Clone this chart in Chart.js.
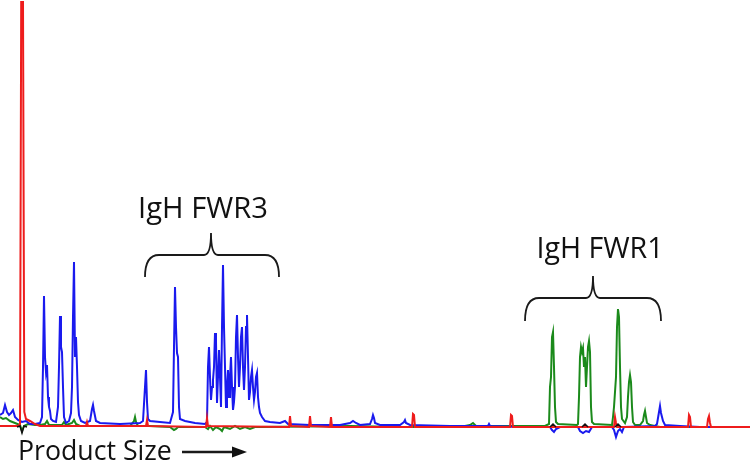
<!DOCTYPE html>
<html>
<head>
<meta charset="utf-8">
<script src="https://cdn.jsdelivr.net/npm/chart.js@4"></script>
<style>
    html, body { margin: 0; padding: 0; background: #ffffff; }
    #wrap { width: 750px; height: 466px; }
</style>
</head>
<body>
<div id="wrap"><canvas id="traceChart" width="750" height="466"></canvas></div>
<script>
// Electropherogram traces: [position along run, signal]
const redTrace = [
    [0, 1], [18, 1], [20, 3], [21.2, 425], [23, 425], [24.3, 15], [26, 8], [30, 6], [35, 3], [40, 1],
    [86, 1], [87, 5], [88, 1], [146, 1], [147, 7], [148, 1], [206, 0], [207, 9], [208, 1],
    [289, 0], [290, 11], [291, 1], [309, 0], [310, 11], [311, 1], [330, 0], [331, 10], [332, 0],
    [412, 0], [413, 13], [414, 12], [415, 0], [510, 0], [511, 12], [512, 11], [513, 0],
    [614, 0], [615, 10], [616, 4], [617, 0], [688, 0], [689, 12], [690, 10], [691, 0],
    [707, 0], [708, 8], [709, 11], [710, 4], [711, 0], [750, 0]
];

const blueTrace = [
    [0, 12], [3, 14], [5, 22], [7, 15], [9, 12], [11, 14], [13, 17], [15, 10], [18, 7], [22, 5], [26, 6],
    [30, 3], [35, 3], [40, 4], [42, 10], [43, 60], [44, 131], [45, 70], [46, 55], [47, 62], [48, 30],
    [49, 20], [50, 16], [51, 8], [53, 6], [56, 5], [58, 20], [59, 60], [60, 111], [61, 80], [62, 75],
    [63, 40], [64, 10], [66, 4], [69, 6], [71, 14], [72, 40], [73, 110], [74, 165], [75, 70], [76, 90],
    [77, 60], [78, 25], [79, 12], [81, 6], [85, 4], [90, 6], [92, 18], [93, 22], [94, 16], [96, 6],
    [100, 4], [120, 3], [140, 4], [143, 6], [145, 40], [146, 57], [147, 25], [148, 8], [150, 6],
    [160, 5], [170, 4], [173, 15], [174, 80], [175, 140], [176, 100], [177, 74], [178, 70], [179, 20],
    [180, 8], [185, 6], [195, 4], [205, 3], [207, 5], [208, 60], [209, 80], [210, 50], [211, 27],
    [212, 40], [213, 47], [214, 60], [215, 94], [216, 85], [217, 24], [218, 50], [219, 77], [220, 50],
    [221, 20], [222, 100], [223, 162], [224, 100], [225, 60], [226, 20], [227, 40], [228, 57], [229, 30],
    [230, 50], [231, 70], [232, 40], [233, 17], [234, 25], [235, 40], [236, 90], [237, 112], [238, 70],
    [239, 40], [240, 60], [241, 90], [242, 100], [243, 60], [244, 37], [245, 60], [246, 100], [247, 112],
    [248, 70], [249, 27], [250, 35], [251, 50], [252, 57], [253, 40], [254, 27], [255, 35], [256, 50],
    [257, 54], [258, 30], [259, 20], [260, 14], [262, 10], [265, 6], [270, 5], [280, 4], [285, 6],
    [288, 3], [310, 2], [340, 2], [350, 4], [353, 6], [356, 4], [360, 2], [370, 3], [372, 8], [373, 12],
    [374, 9], [375, 4], [380, 2], [400, 2], [404, 5], [405, 7], [406, 4], [410, 2], [450, 1], [488, 1],
    [489, 3], [490, 1], [520, 0], [550, 0], [552, -3], [554, -5], [556, -2], [560, 0], [578, 0],
    [580, -4], [583, -6], [586, -4], [589, -5], [592, 0], [612, 0], [614, -3], [616, -10], [618, -4],
    [620, -2], [622, -5], [624, 0], [655, 1], [657, 3], [659, 15], [660, 21], [661, 14], [662, 10],
    [663, 6], [665, 2], [680, 1], [700, 0], [750, 0]
];

const greenTrace = [
    [0, 10], [3, 8], [6, 9], [10, 6], [15, 4], [20, 2], [22, -4], [24, 1], [28, 3], [35, 2], [40, 2],
    [45, 3], [47, 6], [49, 2], [55, 2], [62, 2], [64, 5], [66, 2], [72, 4], [74, 7], [76, 3], [80, 1],
    [130, 1], [134, 6], [135, 10], [136, 5], [138, 1], [150, 1], [170, 0], [174, -3], [176, -2],
    [178, 0], [205, 0], [208, -2], [210, 1], [213, -3], [216, 0], [220, -2], [222, -4], [224, 0],
    [230, -2], [235, 1], [240, -2], [245, 0], [250, -2], [255, 0], [260, 0], [350, 1], [400, 0],
    [460, 0], [470, 2], [473, 4], [476, 1], [545, 1], [549, 3], [550, 40], [551, 50], [552, 90],
    [553, 95], [554, 60], [555, 20], [556, 5], [558, 3], [577, 2], [578, 3], [579, 30], [580, 70],
    [581, 80], [582, 75], [583, 79], [584, 60], [585, 70], [586, 40], [587, 60], [588, 80], [589, 86],
    [590, 75], [591, 20], [592, 5], [594, 3], [612, 2], [613, 10], [614, 20], [615, 35], [616, 50],
    [617, 100], [618, 118], [619, 110], [620, 60], [621, 20], [622, 8], [625, 4], [627, 10], [628, 30],
    [629, 45], [630, 52], [631, 45], [632, 20], [633, 5], [635, 2], [640, 2], [643, 6], [644, 12],
    [645, 16], [646, 10], [647, 4], [650, 2], [660, 0], [750, 0]
];

const blackTrace = [
    [17, 0], [20, 1], [22, -6], [24, 1], [27, 0], [28, null],
    [550, 0], [553, 3], [556, 0], [557, null],
    [582, 0], [585, 3], [588, 0], [589, null],
    [615, 0], [618, 3], [621, 0]
];

const regionLabels = ['IgH FWR3', 'IgH FWR1'];
const axisLabel = 'Product Size';

const toPoints = (pairs) => pairs.map(([x, y]) => ({ x: x, y: y }));

const FONT_FAMILY = '"Open Sans", Lato, sans-serif';

// pick a font size so the text spans the given width
function fitFont(ctx, text, width) {
    ctx.font = '100px ' + FONT_FAMILY;
    const size = 100 * width / ctx.measureText(text).width;
    return size.toFixed(1) + 'px ' + FONT_FAMILY;
}

// Braces, region names and the axis caption drawn on top of the traces
const annotationPlugin = {
    id: 'annotations',
    afterDraw(chart) {
        const ctx = chart.ctx;
        const xs = chart.scales.x;
        const ys = chart.scales.y;

        const drawBrace = (xl, xm, xr, yTip, yMid, yEnd) => {
            const r = 14;
            const r2 = 7;
            ctx.beginPath();
            ctx.moveTo(xl, yEnd);
            ctx.quadraticCurveTo(xl, yMid, xl + r, yMid);
            ctx.lineTo(xm - r2, yMid);
            ctx.quadraticCurveTo(xm, yMid, xm, yTip);
            ctx.quadraticCurveTo(xm, yMid, xm + r2, yMid);
            ctx.lineTo(xr - r, yMid);
            ctx.quadraticCurveTo(xr, yMid, xr, yEnd);
            ctx.stroke();
        };

        ctx.save();
        ctx.strokeStyle = '#1a1a1a';
        ctx.fillStyle = '#111111';
        ctx.lineWidth = 1.8;

        drawBrace(xs.getPixelForValue(145), xs.getPixelForValue(211), xs.getPixelForValue(279),
            ys.getPixelForValue(194), ys.getPixelForValue(172), ys.getPixelForValue(150));
        drawBrace(xs.getPixelForValue(525), xs.getPixelForValue(593), xs.getPixelForValue(661),
            ys.getPixelForValue(151), ys.getPixelForValue(129), ys.getPixelForValue(106));

        ctx.textAlign = 'center';
        ctx.textBaseline = 'alphabetic';
        ctx.font = fitFont(ctx, regionLabels[0], 130);
        ctx.fillText(regionLabels[0], xs.getPixelForValue(203), ys.getPixelForValue(209));
        ctx.font = fitFont(ctx, regionLabels[1], 127);
        ctx.fillText(regionLabels[1], xs.getPixelForValue(600), ys.getPixelForValue(169));

        ctx.textAlign = 'left';
        ctx.font = fitFont(ctx, axisLabel, 154);
        ctx.fillText(axisLabel, 18, 460);

        // arrow after the caption
        ctx.lineWidth = 2.5;
        ctx.beginPath();
        ctx.moveTo(182, 452);
        ctx.lineTo(234, 452);
        ctx.stroke();
        ctx.beginPath();
        ctx.moveTo(247, 452);
        ctx.lineTo(232, 446.5);
        ctx.lineTo(232, 457.5);
        ctx.closePath();
        ctx.fill();
        ctx.restore();
    }
};

const ctx = document.getElementById('traceChart').getContext('2d');
const traceChart = new Chart(ctx, {
    type: 'line',
    data: {
        datasets: [
            { label: 'black', data: toPoints(blackTrace), borderColor: '#111111', borderWidth: 1.5, spanGaps: false },
            { label: 'red', data: toPoints(redTrace), borderColor: '#ee1c1c' },
            { label: 'blue', data: toPoints(blueTrace), borderColor: '#1a1aee' },
            { label: 'green', data: toPoints(greenTrace), borderColor: '#1b8a1b' }
        ]
    },
    options: {
        responsive: false,
        animation: false,
        layout: { padding: 0 },
        elements: {
            point: { radius: 0 },
            line: { tension: 0, borderWidth: 2, fill: false }
        },
        plugins: {
            legend: { display: false },
            tooltip: { enabled: false }
        },
        scales: {
            x: { type: 'linear', min: 0, max: 750, display: false },
            y: { min: -39, max: 427, display: false }
        }
    },
    plugins: [annotationPlugin]
});
</script>
</body>
</html>
